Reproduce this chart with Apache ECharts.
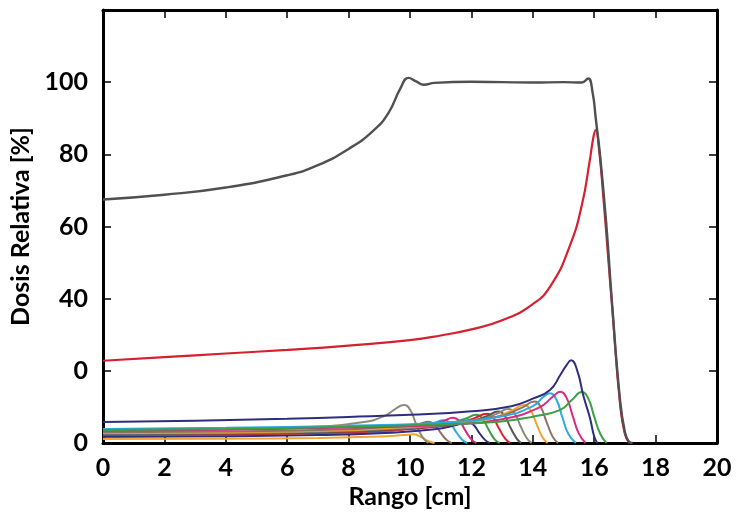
<!DOCTYPE html>
<html>
<head>
<meta charset="utf-8">
<script src="https://cdn.jsdelivr.net/npm/echarts@6/dist/echarts.min.js"></script>
<style>
html,body{margin:0;padding:0;background:#fff;}
#chart{width:736px;height:519px;}
</style>
</head>
<body>
<div id="chart"></div>
<script>
// ---- data (x in cm, y in % relative dose) ----
const xTicks = [0,2,4,6,8,10,12,14,16,18,20];
const yTickLabels = ['0','0','40','60','80','100',''];   // at 0,20,40,...,120
const xName = 'Rango [cm]';
const yName = 'Dosis Relativa [%]';

const sobp = [[0,67.5],[2,68.8],[4,70.8],[6,74.2],[7,77],[8,81.5],[8.8,86.5],[9.3,91.5],[9.7,98.5],[9.95,101.2],[10.2,100.2],[10.45,99.3],[10.8,99.8],[12,100.1],[13,100],[14,99.9],[15,100],[15.6,99.9],[15.8,101],[15.95,97],[16.05,90],[16.2,79],[16.4,60],[16.57,40],[16.84,12],[17.0,3],[17.12,0.5],[17.25,0]];
const redPeak = [[0,22.8],[2,23.8],[4,24.8],[6,25.8],[8,27],[10,28.5],[11,29.8],[12,31.5],[13,34],[14,38.5],[14.6,43.8],[15.2,54.5],[15.6,66],[15.85,78],[15.98,85],[16.05,86.7],[16.15,82],[16.3,68],[16.45,52],[16.6,36],[16.84,11],[17.0,2.5],[17.15,0]];
const navyPeak = [[0,5.8],[3,6.2],[6,6.7],[8,7.2],[10,7.8],[12,8.8],[13.3,10.2],[14,12.3],[14.56,14.7],[14.9,18.9],[15.1,21.6],[15.25,22.9],[15.45,20],[15.65,13],[15.86,7],[16.0,1.8],[16.1,0]];
const greenPeak2 = [[0,3.6],[4,3.9],[8,4.5],[11,5.2],[12.9,5.9],[14,7.3],[14.9,9.2],[15.27,11.9],[15.6,14.1],[15.8,12.5],[16.0,7.3],[16.2,2.5],[16.4,0]];
const magentaPeak2 = [[0,3.4],[4,3.7],[8,4.3],[11,5.0],[13,6.6],[14.2,9.8],[14.65,12.8],[14.89,14.2],[15.1,12.5],[15.3,7.5],[15.5,2.6],[15.72,0]];
const bluePeak2 = [[0,3.9],[4,4.2],[8,4.8],[11,5.6],[13,7.4],[14,10.2],[14.35,12.8],[14.56,13.8],[14.76,12.2],[14.96,7.2],[15.16,2.5],[15.4,0]];
const brownPeak2 = [[0,3.0],[4,3.2],[7,3.6],[9,4.3],[12.8,7.2],[13.65,9.8],[14.05,11.5],[14.25,10.1],[14.45,5.8],[14.65,1.7],[14.82,0]];
const orangePeak2 = [[0,2.8],[4,3.0],[7,3.4],[9,4.0],[12.5,6.5],[13.3,8.9],[13.72,10.5],[13.92,9.2],[14.12,5.3],[14.32,1.5],[14.48,0]];
const grayBrownPeak = [[0,2.6],[4,2.8],[7,3.2],[9,3.8],[12,5.8],[12.8,8.0],[13.2,9.4],[13.4,8.3],[13.6,4.7],[13.8,1.4],[13.96,0]];
const darkGrayPeak = [[0,2.4],[4,2.6],[7,3.0],[9,3.6],[11.7,5.4],[12.5,7.4],[12.87,8.7],[13.07,7.7],[13.27,4.3],[13.47,1.3],[13.62,0]];
const redPeak1 = [[0,2.2],[4,2.4],[7,2.8],[9,3.4],[11.3,5.0],[12.1,6.9],[12.5,8.1],[12.7,7.1],[12.9,4.0],[13.1,1.2],[13.26,0]];
const greenPeak1 = [[0,2.2],[4,2.4],[7,2.8],[9,3.4],[11,4.9],[11.8,6.7],[12.15,7.8],[12.35,6.9],[12.55,3.9],[12.75,1.1],[12.92,0]];
const navyPeak1 = [[0,1.7],[4,1.9],[7,2.2],[9,2.7],[10.8,3.8],[11.5,5.0],[11.85,5.9],[12.05,5.2],[12.25,2.9],[12.45,0.8],[12.6,0]];
const magentaPeak1 = [[0,2.1],[4,2.3],[7,2.7],[9,3.3],[10.5,4.6],[11.1,6.1],[11.4,7.0],[11.6,6.2],[11.8,3.5],[12.0,1.0],[12.16,0]];
const bluePeak1 = [[0,2.0],[4,2.2],[7,2.6],[9,3.2],[10.3,4.4],[10.8,5.6],[11.1,6.3],[11.3,5.6],[11.5,3.1],[11.7,0.9],[11.86,0]];
const brownPeak1 = [[0,1.8],[4,2.0],[7,2.4],[9,3.0],[10,4.2],[10.35,5.3],[10.6,5.9],[10.8,5.2],[11.0,2.8],[11.2,0.8],[11.36,0]];
const orangePeak1 = [[0,1.1],[4,1.2],[7,1.4],[9,1.8],[9.8,2.2],[10.1,2.4],[10.35,1.7],[10.6,0.5],[10.8,0]];
const olivePeak = [[0,3.3],[4,3.8],[7,4.5],[8.5,5.8],[9.2,7.6],[9.55,9.6],[9.8,10.5],[10.0,9.3],[10.2,5.2],[10.4,1.7],[10.6,0]];

const curves = [
  {d: orangePeak1, c:'#f2a531'},
  {d: olivePeak, c:'#8d8c76'},
  {d: brownPeak1, c:'#8c6e5c'},
  {d: bluePeak1, c:'#2ea9e1'},
  {d: magentaPeak1, c:'#d82a80'},
  {d: navyPeak1, c:'#2d2f7e'},
  {d: greenPeak1, c:'#3b9f45'},
  {d: redPeak1, c:'#d9222f'},
  {d: darkGrayPeak, c:'#575757'},
  {d: grayBrownPeak, c:'#8e8878'},
  {d: orangePeak2, c:'#f4a428'},
  {d: brownPeak2, c:'#8c7460'},
  {d: bluePeak2, c:'#2ea9e1'},
  {d: magentaPeak2, c:'#d82a80'},
  {d: greenPeak2, c:'#3b9f45'},
  {d: navyPeak, c:'#2d2f7e'},
  {d: redPeak, c:'#d61f2f', w:2.2},
  {d: sobp, c:'#505050', w:2.4}
];

const FONT = 'Lato';
const chart = echarts.init(document.getElementById('chart'), null, {renderer:'canvas'});
const frameLine = {show:true, onZero:false, lineStyle:{color:'#000', width:3}};
const inTick = {show:true, inside:true, length:8, lineStyle:{color:'#000', width:1.5}};

chart.setOption({
  animation:false,
  backgroundColor:'#fff',
  grid:{left:103, right:19, top:10, bottom:76},
  xAxis:[{
    type:'value', min:xTicks[0], max:xTicks[xTicks.length-1], interval:2,
    axisLine:frameLine, axisTick:inTick, splitLine:{show:false},
    axisLabel:{show:true, margin:12, color:'#000', fontFamily:FONT, fontWeight:'bold', fontSize:25},
    name:xName, nameLocation:'middle', nameGap:40,
    nameTextStyle:{color:'#000', fontFamily:FONT, fontWeight:'bold', fontSize:25}
  },{
    type:'value', position:'top', min:xTicks[0], max:xTicks[xTicks.length-1], interval:2,
    axisLine:frameLine, axisTick:inTick, splitLine:{show:false}, axisLabel:{show:false}
  }],
  yAxis:[{
    type:'value', min:0, max:120, interval:20,
    axisLine:frameLine, axisTick:inTick, splitLine:{show:false},
    axisLabel:{show:true, margin:15, color:'#000', fontFamily:FONT, fontWeight:'bold', fontSize:25,
      formatter:(v)=> yTickLabels[Math.round(v/20)]},
    name:yName, nameLocation:'middle', nameGap:65, nameRotate:90,
    nameTextStyle:{color:'#000', fontFamily:FONT, fontWeight:'bold', fontSize:25}
  },{
    type:'value', position:'right', min:0, max:120, interval:20,
    axisLine:frameLine, axisTick:inTick, splitLine:{show:false}, axisLabel:{show:false}
  }],
  series: curves.map(s=>({
    type:'line', data:s.d, showSymbol:false, smooth:0.5,
    lineStyle:{color:s.c, width:s.w||2}, itemStyle:{color:s.c}, z:2
  }))
});
</script>
</body>
</html>
